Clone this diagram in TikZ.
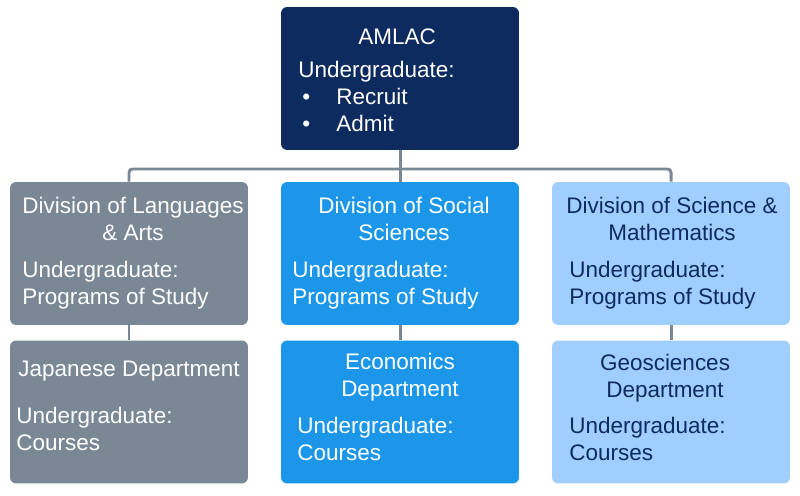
\documentclass[tikz,border=0pt]{standalone}
\usepackage{fontspec}
\setmainfont{Liberation Sans}
\usepackage{xcolor}
\usetikzlibrary{positioning}
\definecolor{navy}{HTML}{0E2B60}
\definecolor{slate}{HTML}{7A8795}
\definecolor{azure}{HTML}{1C96E8}
\definecolor{sky}{HTML}{A0CFFF}
\tikzset{
  unit/.style  ={rounded corners=3.5pt,minimum width=4.76cm,minimum height=2.86cm,inner sep=0pt},
  lead/.style  ={unit,fill=navy},
  divg/.style  ={unit,fill=slate},
  divb/.style  ={unit,fill=azure},
  divl/.style  ={unit,fill=sky},
  txt/.style   ={inner sep=0pt,text=white,font=\fontsize{12.8}{15.3}\selectfont},
  head/.style  ={txt,align=center,anchor=north},
  body/.style  ={txt,align=left,anchor=north west},
  link/.style  ={draw=slate,line width=1.7pt},
}
\newcommand{\bul}{\makebox[0.76cm][l]{\hspace{0.08cm}\textbullet}}

\begin{document}
\begin{tikzpicture}[x=0.02cm,y=-0.02cm]
  \useasboundingbox (0,0) rectangle (800,496);
  % boxes
  \node[lead] (amlac) at (400,78.5) {};
  \node[divg] (lang)  at (129,253.5) {};
  \node[divb] (soc)   at (400,253.5) {};
  \node[divl] (sci)   at (671,253.5) {};
  \node[divg] (jpn)   at (129,412) {};
  \node[divb] (econ)  at (400,412) {};
  \node[divl] (geo)   at (671,412) {};
  \coordinate (bus) at (400,169);
  % links
  \draw[link] (amlac.south) -- (bus);
  \draw[link,rounded corners=2pt] (bus) -| (lang.north);
  \draw[link,rounded corners=2pt] (bus) -| (sci.north);
  \draw[link] (bus) -- (soc.north);
  \draw[link] (lang.south) -- (jpn.north);
  \draw[link] (soc.south) -- (econ.north);
  \draw[link] (sci.south) -- (geo.north);
  % texts
  \node[head] (amlacT) at (397,28) {AMLAC};
  \node[body] (amlacB) at (298,61) {Undergraduate:\\\bul Recruit\\\bul Admit};
  \node[head] (langT) at (133,197) {Division of Languages\\\& Arts};
  \node[body] (langB) at (22,261) {Undergraduate:\\Programs of Study};
  \node[head] (socT) at (404,197) {Division of Social\\Sciences};
  \node[body] (socB) at (292,261) {Undergraduate:\\Programs of Study};
  \node[head,text=navy] (sciT) at (672,197) {Division of Science \&\\Mathematics};
  \node[body,text=navy] (sciB) at (569,261) {Undergraduate:\\Programs of Study};
  \node[head] (jpnT) at (129,361) {Japanese Department};
  \node[body] (jpnB) at (16,407) {Undergraduate:\\Courses};
  \node[head] (econT) at (400,353) {Economics\\Department};
  \node[body] (econB) at (297,417) {Undergraduate:\\Courses};
  \node[head,text=navy] (geoT) at (665,354) {Geosciences\\Department};
  \node[body,text=navy] (geoB) at (569,417) {Undergraduate:\\Courses};
\end{tikzpicture}
\end{document}
